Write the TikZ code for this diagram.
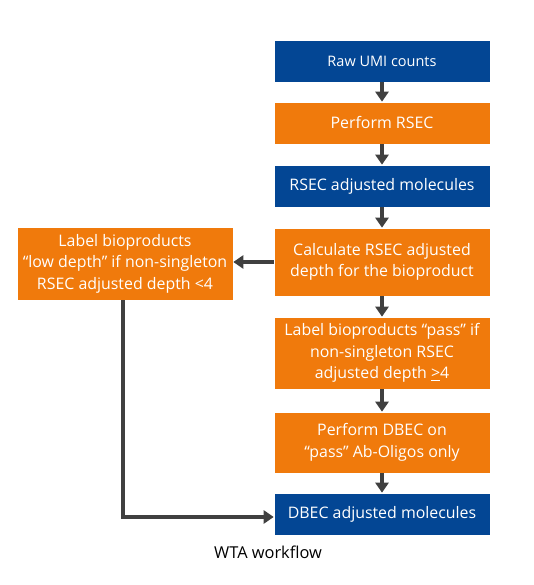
\documentclass[tikz,border=0pt]{standalone}
\usepackage{fontspec}
\setmainfont{Open Sans}
\usetikzlibrary{arrows.meta}

\definecolor{bdblue}{RGB}{3,70,148}
\definecolor{bdorange}{RGB}{240,122,12}
\definecolor{flowgray}{RGB}{64,64,64}

\tikzset{
  stepbox/.style={draw=white, line width=0.6pt, text=white, align=center, minimum width=216pt, inner sep=2pt, font=\fontsize{15.9}{21.5}\selectfont},
  bluebox/.style={stepbox, fill=bdblue},
  orangebox/.style={stepbox, fill=bdorange},
  flow/.style={-{Triangle[width=13pt,length=10pt]}, line width=3.6pt, flowgray}
}

\begin{document}
\begin{tikzpicture}[x=1pt,y=1pt]
				\useasboundingbox (0,0) rectangle (533,585);
				\node[bluebox, minimum height=42pt, font=\fontsize{14.5}{18}\selectfont](raw) at (382,524){Raw UMI counts};
				\node[orangebox, minimum height=42pt](rsec) at (382,462){Perform RSEC};
				\node[bluebox, minimum height=42pt](adjmol) at (382,399){RSEC adjusted molecules};
				\node[orangebox, minimum height=68pt](calc) at (382,323){Calculate RSEC adjusted\\depth for the bioproduct};
				\node[orangebox, minimum height=72pt](pass) at (382,232){Label bioproducts “pass” if\\non-singleton RSEC\\adjusted depth \underline{>}4};
				\node[orangebox, minimum height=61pt](dbec) at (382,142.5){Perform DBEC on\\“pass” Ab-Oligos only};
				\node[bluebox, minimum height=42pt](dbecmol) at (382,71){DBEC adjusted molecules};
				\node[orangebox, minimum height=73pt](lowdepth) at (125,321.5){Label bioproducts\\“low depth” if non-singleton\\RSEC adjusted depth <4};
				\node[font=\fontsize{16.4}{20}\selectfont](caption) at (268,33){WTA workflow};
				\draw[flow](raw)--(rsec);
				\draw[flow](rsec)--(adjmol);
				\draw[flow](adjmol)--(calc);
				\draw[flow](calc)--(pass);
				\draw[flow](pass)--(dbec);
				\draw[flow](dbec)--(dbecmol);
				\draw[flow](calc.west)--(calc.west -| lowdepth.east);
				\draw[flow]([xshift=-2pt]lowdepth.south) |- ([yshift=-3pt]dbecmol.west);
			\end{tikzpicture}
\end{document}
